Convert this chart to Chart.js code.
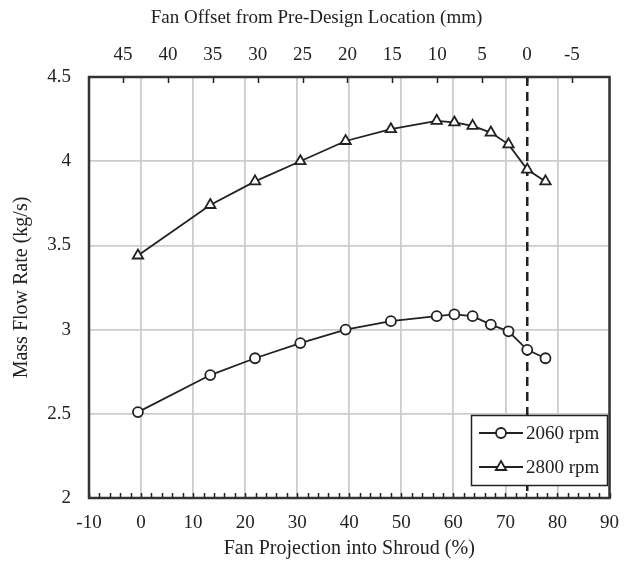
<!DOCTYPE html>
<html>
<head>
<meta charset="utf-8">
<script src="https://cdn.jsdelivr.net/npm/chart.js@4/dist/chart.umd.min.js"></script>
<style>
  html, body { margin: 0; padding: 0; background: #fff; }
  #wrap { width: 633px; height: 564px; }
</style>
</head>
<body>
<div id="wrap"><canvas id="chart"></canvas></div>
<script>
// Fan projection into shroud (%), shared by both speeds
const projection = [-0.6, 13.3, 21.9, 30.6, 39.3, 48.0, 56.8, 60.2, 63.7, 67.2, 70.6, 74.2, 77.7];
const flow2060 = [2.51, 2.73, 2.83, 2.92, 3.00, 3.05, 3.08, 3.09, 3.08, 3.03, 2.99, 2.88, 2.83];
const flow2800 = [3.44, 3.74, 3.88, 4.00, 4.12, 4.19, 4.24, 4.23, 4.21, 4.17, 4.10, 3.95, 3.88];
const seriesLabels = ['2060 rpm', '2800 rpm'];
// pre-design location (0 mm offset) on the projection axis
const designProjection = 74.2;
// top axis range (mm) matching the bottom axis -10..90
const offsetRange = [-9.2, 48.8];
const offsetTicks = [45, 40, 35, 30, 25, 20, 15, 10, 5, 0, -5];
const topTitle = 'Fan Offset from Pre-Design Location (mm)';

const FONT = "'Liberation Serif', 'Times New Roman', serif";
const FSIZE = 19;
const INK = '#222';

function toPoints(ys) {
    return projection.map((x, i) => ({ x: x, y: ys[i] }));
}

// frame, inward ticks, dashed design line, legend box and top title
const decorations = {
    id: 'decorations',
    beforeDatasetsDraw(chart) {
        const ctx = chart.ctx;
        const a = chart.chartArea;
        const xs = chart.scales.x;
        const top = chart.scales.xTop;
        ctx.save();
        ctx.strokeStyle = INK;
        ctx.lineWidth = 1.5;
        // minor ticks on bottom axis every 2 %
        ctx.beginPath();
        for (let v = -10; v <= 90; v += 2) {
            const px = Math.round(xs.getPixelForValue(v)) + 0.5;
            ctx.moveTo(px, a.bottom);
            ctx.lineTo(px, a.bottom - 5);
        }
        // ticks on top axis every 5 mm
        offsetTicks.forEach(v => {
            const px = Math.round(top.getPixelForValue(v)) + 0.5;
            ctx.moveTo(px, a.top);
            ctx.lineTo(px, a.top + 6);
        });
        ctx.stroke();

        // dashed line at pre-design location
        const dx = xs.getPixelForValue(designProjection);
        ctx.lineWidth = 2.5;
        ctx.setLineDash([9, 6]);
        ctx.beginPath();
        ctx.moveTo(dx, a.top);
        ctx.lineTo(dx, a.bottom);
        ctx.stroke();
        ctx.restore();
    },
    afterDatasetsDraw(chart) {
        const ctx = chart.ctx;
        const a = chart.chartArea;
        ctx.save();
        // legend
        const lx = 471, ly = 415, lw = 136, lh = 70;
        ctx.fillStyle = '#fff';
        ctx.fillRect(lx, ly, lw, lh);
        ctx.strokeStyle = INK;
        ctx.lineWidth = 1.5;
        ctx.strokeRect(lx + 0.5, ly + 0.5, lw, lh);
        chart.data.datasets.forEach((ds, i) => {
            const cy = ly + 18 + i * 34;
            ctx.strokeStyle = INK;
            ctx.lineWidth = 1.8;
            ctx.beginPath();
            ctx.moveTo(lx + 8, cy);
            ctx.lineTo(lx + 52, cy);
            ctx.stroke();
            ctx.fillStyle = '#fff';
            Chart.helpers.drawPoint(ctx, {
                pointStyle: ds.pointStyle,
                radius: ds.pointRadius,
                borderWidth: ds.pointBorderWidth,
                rotation: 0
            }, lx + 30, cy);
            ctx.fillStyle = INK;
            ctx.font = FSIZE + 'px ' + FONT;
            ctx.textBaseline = 'middle';
            ctx.fillText(ds.label, lx + 55, cy + 1);
        });
        // frame
        ctx.strokeStyle = '#333';
        ctx.lineWidth = 2.5;
        ctx.strokeRect(a.left, a.top, a.right - a.left, a.bottom - a.top);

        // top axis title, centred on the picture
        ctx.fillStyle = INK;
        ctx.font = FSIZE + 'px ' + FONT;
        ctx.textAlign = 'center';
        ctx.textBaseline = 'middle';
        ctx.fillText(topTitle, chart.width / 2, 18);
        ctx.restore();
    }
};

function lineSet(label, ys, style, radius) {
    return {
        label: label,
        data: toPoints(ys),
        showLine: true,
        borderColor: INK,
        borderWidth: 1.8,
        pointStyle: style,
        pointRadius: radius,
        pointHoverRadius: radius,
        pointBorderWidth: 1.8,
        pointBorderColor: INK,
        pointBackgroundColor: '#fff',
        fill: false,
        tension: 0
    };
}

const tickFont = { family: FONT, size: FSIZE };

new Chart(document.getElementById('chart'), {
    type: 'scatter',
    data: {
        datasets: [
            lineSet(seriesLabels[0], flow2060, 'circle', 5),
            lineSet(seriesLabels[1], flow2800, 'triangle', 6)
        ]
    },
    options: {
        responsive: true,
        maintainAspectRatio: false,
        animation: false,
        events: [],
        layout: { padding: { left: 0, right: 22, top: 0, bottom: 0 } },
        plugins: {
            legend: { display: false },
            tooltip: { enabled: false }
        },
        scales: {
            x: {
                type: 'linear',
                position: 'bottom',
                min: -10,
                max: 90,
                ticks: { stepSize: 10, color: INK, font: tickFont, padding: 14 },
                grid: { color: '#cccccc', lineWidth: 1.8, drawTicks: false },
                border: { display: false },
                title: { display: true, text: 'Fan Projection into Shroud (%)', color: INK, font: { family: FONT, size: 20 }, padding: { bottom: 3 } },
                afterFit(s) { s.height = 66; }
            },
            xTop: {
                type: 'linear',
                position: 'top',
                min: offsetRange[0],
                max: offsetRange[1],
                reverse: true,
                ticks: { color: INK, font: tickFont, padding: 11, callback: v => String(v) },
                afterBuildTicks(s) {
                    s.ticks = offsetTicks.map(v => ({ value: v }));
                },
                grid: { display: false, drawTicks: false },
                border: { display: false },
                afterFit(s) { s.height = 77; }
            },
            y: {
                type: 'linear',
                min: 2,
                max: 4.5,
                ticks: { stepSize: 0.5, color: INK, font: tickFont, padding: 18, callback: v => String(+v.toFixed(2)) },
                grid: { color: '#cccccc', lineWidth: 1.8, drawTicks: false },
                border: { display: false },
                title: { display: true, text: 'Mass Flow Rate (kg/s)', color: INK, font: { family: FONT, size: 20 }, padding: { top: 10 } },
                afterFit(s) { s.width = 89; }
            }
        }
    },
    plugins: [decorations]
});
</script>
</body>
</html>
